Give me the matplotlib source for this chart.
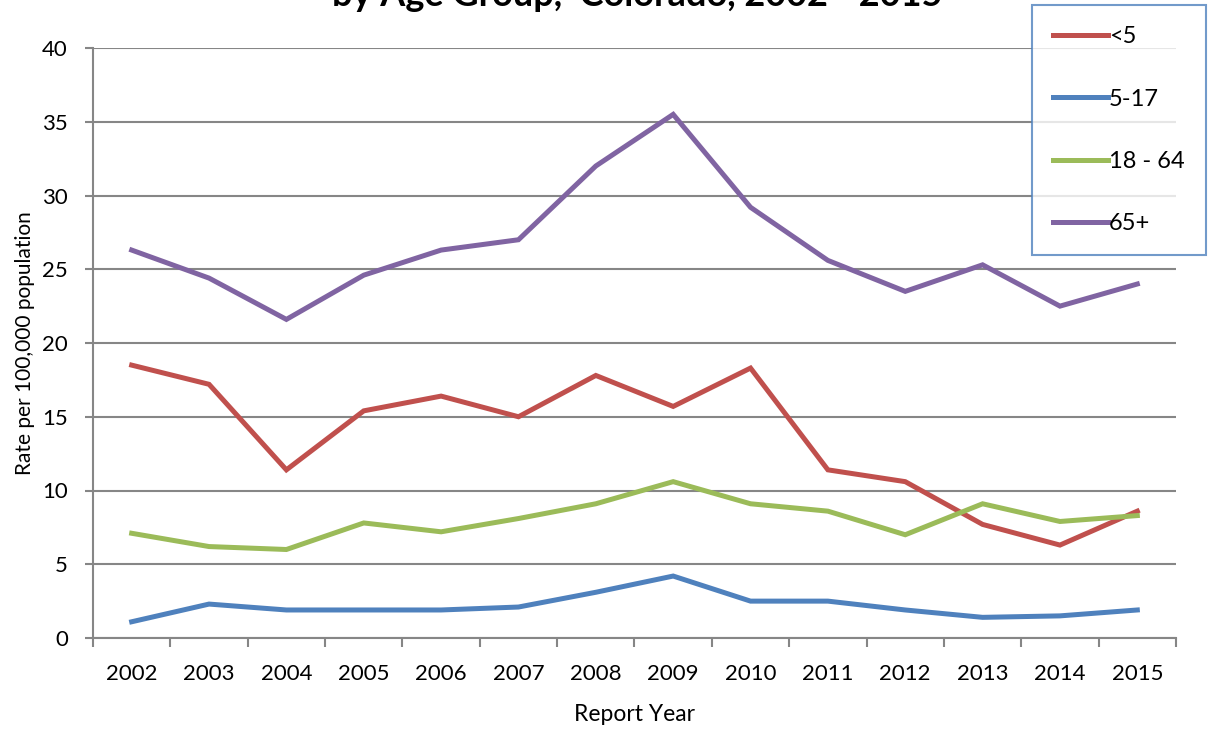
import numpy as np
import matplotlib
matplotlib.use("Agg")
import matplotlib.pyplot as plt

years = ['2002', '2003', '2004', '2005', '2006', '2007', '2008',
         '2009', '2010', '2011', '2012', '2013', '2014', '2015']
under5 = [18.5, 17.2, 11.4, 15.4, 16.4, 15.0, 17.8, 15.7, 18.3, 11.4, 10.6, 7.7, 6.3, 8.6]
age5_17 = [1.1, 2.3, 1.9, 1.9, 1.9, 2.1, 3.1, 4.2, 2.5, 2.5, 1.9, 1.4, 1.5, 1.9]
age18_64 = [7.1, 6.2, 6.0, 7.8, 7.2, 8.1, 9.1, 10.6, 9.1, 8.6, 7.0, 9.1, 7.9, 8.3]
age65 = [26.3, 24.4, 21.6, 24.6, 26.3, 27.0, 32.0, 35.5, 29.2, 25.6, 23.5, 25.3, 22.5, 24.0]

series = [('<5', under5, '#C0504D'),
          ('5-17', age5_17, '#4F81BD'),
          ('18 - 64', age18_64, '#9BBB59'),
          ('65+', age65, '#8064A2')]

plt.rcParams['font.family'] = ['Lato', 'DejaVu Sans']
W, H = 1211, 732
fig = plt.figure(figsize=(W / 100, H / 100), dpi=100)
ax = fig.add_axes([93 / W, 1 - 638 / H, (1176 - 93) / W, (638 - 48) / H])

x = np.arange(len(years))
handles = []
for name, vals, col in series:
    h, = ax.plot(x, vals, color=col, lw=3.6, label=name, solid_joinstyle='miter')
    handles.append(h)

ax.set_ylim(0, 40)
ax.set_yticks(range(0, 41, 5))
ax.set_xlim(-0.5, len(years) - 0.5)
ax.set_xticks(x)
ax.set_xticklabels(years)
ax.set_xticks(np.arange(-0.5, len(years), 1.0), minor=True)
ax.tick_params(axis='x', which='major', length=0, labelsize=16, pad=19)
ax.tick_params(axis='x', which='minor', length=6.5, width=1.5, color='#868686')
ax.tick_params(axis='y', length=6, width=1.5, color='#868686', labelsize=16, pad=12)
ax.yaxis.grid(True, color='#868686', lw=1.5)
ax.set_axisbelow(True)
for s in ['top', 'right']:
    ax.spines[s].set_visible(False)
for s in ['left', 'bottom']:
    ax.spines[s].set_color('#868686')
    ax.spines[s].set_linewidth(1.5)

ax.set_ylabel('Rate per 100,000 population', fontsize=15, labelpad=5)
ax.set_xlabel('Report Year', fontsize=16.5, labelpad=14)

# title runs off the top edge as in the source image
fig.text(0.526, 1 - 6 / H, 'by Age Group,  Colorado, 2002 - 2015', ha='center',
         va='baseline', fontsize=26, fontweight='bold')

leg = fig.legend(handles=handles, loc='upper left', bbox_to_anchor=(1032 / W, 1 - 5 / H),
                 frameon=True, fancybox=False, fontsize=17, handlelength=2.3,
                 labelspacing=1.75, handletextpad=0.05, borderpad=0.9, borderaxespad=0)
leg.get_frame().set_edgecolor('#4F81BD')
leg.get_frame().set_linewidth(1.5)

fig.savefig('out.png', dpi=100)
